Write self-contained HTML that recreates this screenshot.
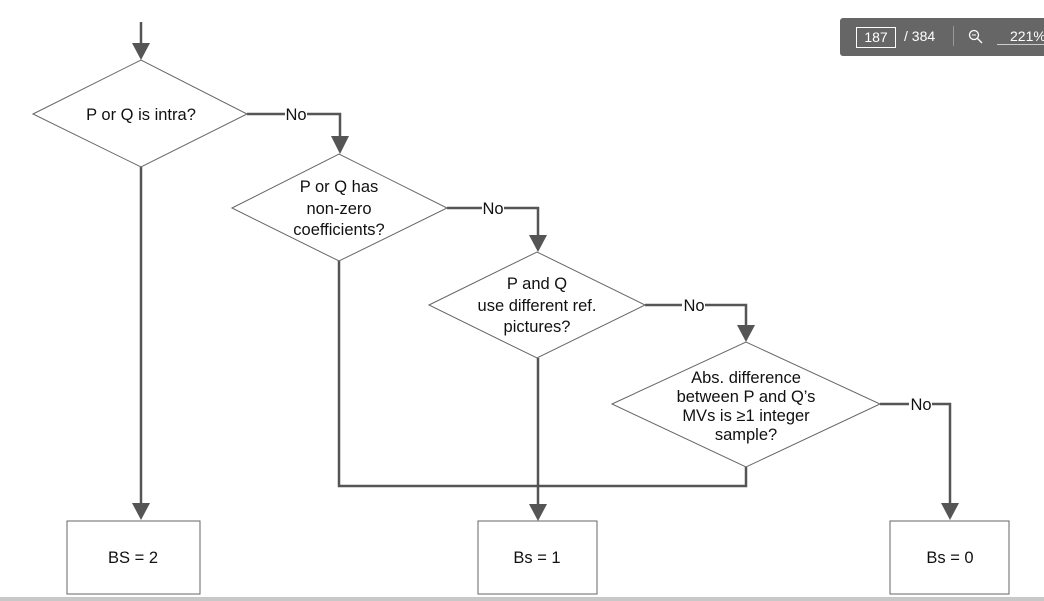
<!DOCTYPE html>
<html><head><style>
body{margin:0;width:1044px;height:601px;background:#fff;overflow:hidden;position:relative;font-family:"Liberation Sans",sans-serif;}
svg{position:absolute;left:0;top:0}
.tb{position:absolute;left:840px;top:18px;width:210px;height:38px;background:#666;border-radius:3px;color:#fff;font-size:14px;}
</style></head><body>
<svg width="1044" height="601" viewBox="0 0 1044 601" font-family="Liberation Sans, sans-serif" font-size="16.5" fill="#111">
<g fill="none" stroke="#555" stroke-width="2.5">
<line x1="141" y1="22" x2="141" y2="45"/>
<polyline points="247,114 285,114"/><polyline points="307,114 340,114 340,138"/>
<line x1="141" y1="167" x2="141" y2="503"/>
<polyline points="447,208 482,208"/><polyline points="504,208 538,208 538,236"/>
<polyline points="339,261 339,486 746,486 746,467"/>
<polyline points="645,305 682,305"/><polyline points="705,305 746,305 746,326"/>
<line x1="538" y1="358" x2="538" y2="505"/>
<polyline points="880,404 909,404"/><polyline points="932,404 950,404 950,503"/>
</g>
<g fill="#555">
<polygon points="132,43 150,43 141,60"/>
<polygon points="331,136 349,136 340,154"/>
<polygon points="529,235 547,235 538,252"/>
<polygon points="737,325 755,325 746,342"/>
<polygon points="132,503 150,503 141,520"/>
<polygon points="529,504 547,504 538,521"/>
<polygon points="941,503 959,503 950,520"/>
</g>
<g fill="#fff" stroke="#666" stroke-width="1">
<polygon points="33,114 141,60 247,114 141,167"/>
<polygon points="232,208 339,154 447,208 339,261"/>
<polygon points="429,305 537,252 645,305 537,358"/>
<polygon points="612,404 746,342 880,404 746,467"/>
<rect x="67" y="521" width="133" height="73"/>
<rect x="478" y="521" width="119" height="73"/>
<rect x="890" y="521" width="119" height="73"/>
</g>
<g text-anchor="middle">
<text x="141" y="120">P or Q is intra?</text>
<text x="296" y="120">No</text>
<text x="339" y="192">P or Q has</text>
<text x="339" y="214">non-zero</text>
<text x="339" y="235">coefficients?</text>
<text x="493" y="214">No</text>
<text x="537" y="289">P and Q</text>
<text x="537" y="311">use different ref.</text>
<text x="537" y="332">pictures?</text>
<text x="694" y="311">No</text>
<text x="746" y="383">Abs. difference</text>
<text x="746" y="402">between P and Q’s</text>
<text x="746" y="421">MVs is ≥1 integer</text>
<text x="746" y="440">sample?</text>
<text x="921" y="410">No</text>
<text x="133" y="563">BS = 2</text>
<text x="537" y="563">Bs = 1</text>
<text x="950" y="563">Bs = 0</text>
</g>
<rect x="0" y="597" width="1044" height="4" fill="#c8c8c8"/>
</svg>
<div class="tb">
<div style="position:absolute;left:16px;top:9px;width:38px;height:19px;border:1px solid #fff;text-align:center;line-height:19px;">187</div>
<div style="position:absolute;left:64px;top:10px;">/ 384</div>
<div style="position:absolute;left:113px;top:8px;width:1px;height:20px;background:#999"></div>
<svg style="position:absolute;left:128px;top:11px" width="16" height="16"><circle cx="6" cy="6" r="4.5" fill="none" stroke="#fff" stroke-width="1.3"/><line x1="9.5" y1="9.5" x2="14" y2="14" stroke="#fff" stroke-width="1.3"/><line x1="4" y1="6" x2="8" y2="6" stroke="#fff"/></svg>
<div style="position:absolute;left:157px;top:10px;width:60px;border-bottom:1px solid #ccc;padding-left:13px;">221%</div>
</div>
</body></html>
